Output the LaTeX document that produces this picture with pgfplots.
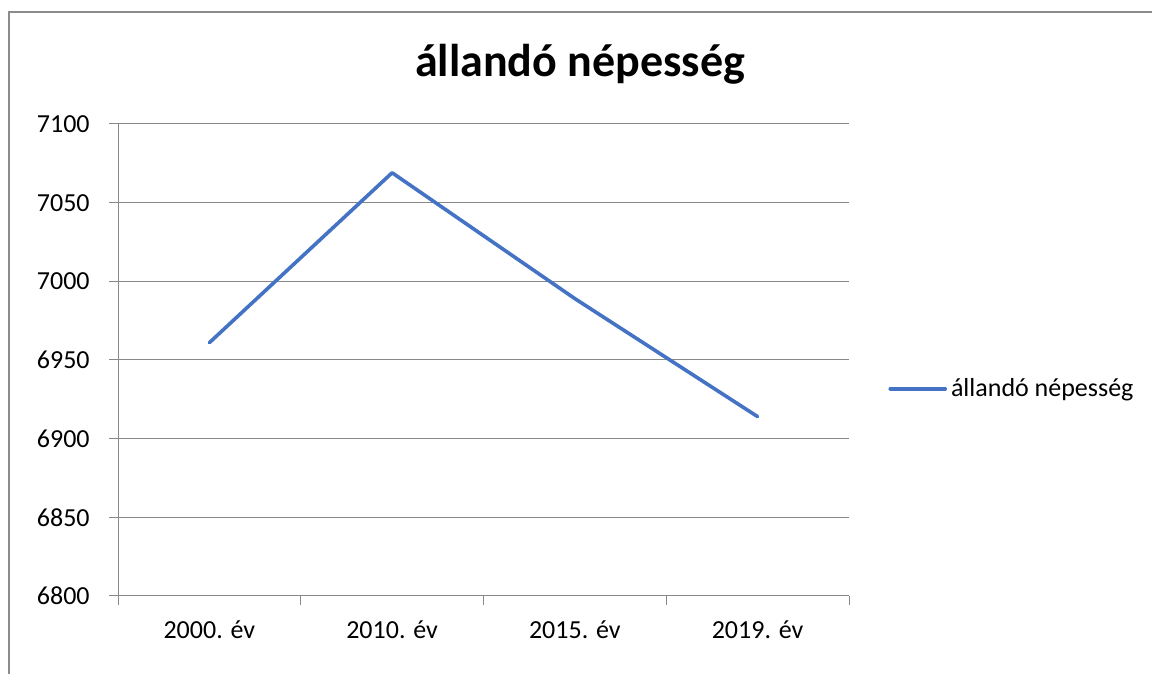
\documentclass[border=0pt]{standalone}
\usepackage{fontspec}
\setmainfont{Carlito}
\usepackage{pgfplots}
\pgfplotsset{compat=1.18}
\definecolor{lineblue}{HTML}{4472C4}
\definecolor{gridgray}{HTML}{888888}
\definecolor{framegray}{HTML}{8C8C8C}
\begin{document}
\begin{tikzpicture}
\useasboundingbox (0,0) rectangle (576pt,337pt);
\draw[framegray, line width=1pt] (4.5pt,0) -- (4.5pt,331pt) -- (576pt,331pt);
\node[font=\fontsize{23}{27}\selectfont\bfseries, anchor=base] at (290pt,298.5pt) {állandó népesség};
\begin{axis}[
  at={(59pt,39pt)}, anchor=south west,
  scale only axis, width=365.5pt, height=236pt,
  xmin=-0.5, xmax=3.5, ymin=6800, ymax=7100,
  ytick={6800,6850,...,7100},
  xtick={-0.5,0.5,1.5,2.5,3.5}, xticklabels={},
  extra x ticks={0,1,2,3}, extra x tick labels={2000. év,2010. év,2015. év,2019. év},
  extra x tick style={major tick length=0pt, grid=none},
  ymajorgrids, grid style={gridgray, line width=0.5pt},
  axis x line*=bottom, axis y line*=left,
  axis line style={gridgray, line width=0.5pt, -},
  tick align=outside, major tick length=4.5pt,
  every tick/.style={draw=gridgray, line width=0.5pt},
  tick label style={font=\fontsize{13}{15}\selectfont, text=black},
  /pgf/number format/assume math mode=true,
  /pgf/number format/1000 sep={},
  yticklabel style={anchor=east, inner sep=0pt, xshift=-9.5pt},
  xticklabel style={anchor=north, inner sep=0pt, yshift=-12pt},
  legend style={at={(axis description cs:1.0534,0.4386)}, anchor=west, draw=none, inner sep=0pt, font=\fontsize{13}{15}\selectfont, legend cell align=left},
  legend image code/.code={\draw[#1] (0pt,0pt) -- (27.5pt,0pt);},
  clip=false,
]
\addplot[lineblue, line width=1.8pt, line cap=round, line join=round] coordinates {(0,6961) (1,7069) (2,6989) (3,6914)};
\addlegendentry{állandó népesség}
\end{axis}
\end{tikzpicture}
\end{document}
